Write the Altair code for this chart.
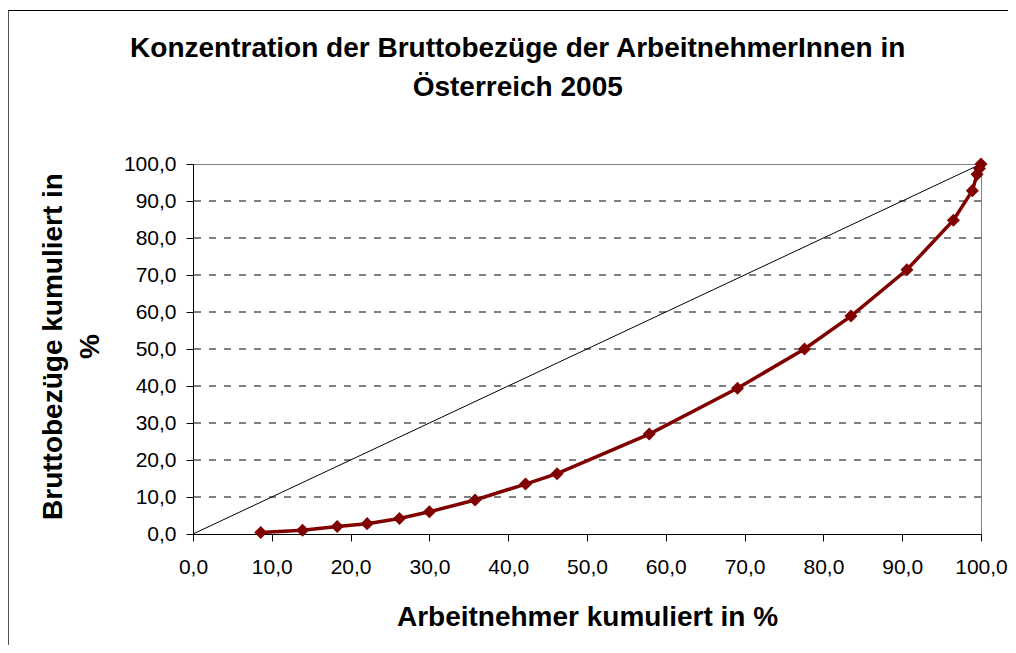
import altair as alt
import pandas as pd

# Lorenz curve data (cumulative %)
arbeitnehmer = [8.6, 13.9, 18.3, 22.1, 26.2, 30.0, 35.8, 42.2, 46.2, 57.9,
                69.1, 77.6, 83.5, 90.6, 96.5, 98.9, 99.5, 99.8, 100.0]
bezuege = [0.4, 1.0, 2.0, 2.8, 4.2, 6.0, 9.2, 13.5, 16.3, 27.0,
           39.4, 50.0, 58.9, 71.4, 84.8, 92.8, 97.2, 98.8, 100.0]

diag_x = [0.0, 100.0]
diag_y = [0.0, 100.0]
grid_vals = [10, 20, 30, 40, 50, 60, 70, 80, 90]
tick_vals = [0, 10, 20, 30, 40, 50, 60, 70, 80, 90, 100]
title_lines = ["Konzentration der Bruttobezüge der ArbeitnehmerInnen in",
               "Österreich 2005"]

FONT = "Liberation Sans"

lorenz = pd.DataFrame({"x": arbeitnehmer, "y": bezuege})
diag = pd.DataFrame({"x": diag_x, "y": diag_y})
grid = pd.DataFrame({"v": grid_vals})

lbl = "replace(format(datum.value, '.1f'), '.', ',')"

xscale = alt.Scale(domain=[0, 100], nice=False, zero=False)
yscale = alt.Scale(domain=[0, 100], nice=False, zero=False)

x_axis = alt.Axis(values=tick_vals, labelExpr=lbl, grid=False,
                  title="Arbeitnehmer kumuliert in %",
                  titleX=394, titleY=91, titleBaseline="alphabetic",
                  titleAlign="center",
                  labelBaseline="alphabetic", labelPadding=32)
y_axis = alt.Axis(values=tick_vals, labelExpr=lbl, grid=False,
                  title=["Bruttobezüge kumuliert in", "%"],
                  titleAngle=270, titleX=-140, titleY=182,
                  titleAlign="center", titleBaseline="middle",
                  titleLineHeight=37,
                  labelPadding=10)

gridlines = alt.Chart(grid).mark_rule(color="black", strokeWidth=1,
                                      strokeDash=[7, 8]).encode(
    y=alt.Y("v:Q", scale=yscale, axis=y_axis)
)

diagonal = alt.Chart(diag).mark_line(color="black", strokeWidth=1).encode(
    x=alt.X("x:Q", scale=xscale, axis=x_axis),
    y=alt.Y("y:Q", scale=yscale, axis=y_axis),
)

curve = alt.Chart(lorenz).mark_line(
    color="#800000", strokeWidth=3.5,
    point=alt.OverlayMarkDef(shape="diamond", size=170, filled=True,
                             color="#800000")
).encode(
    x=alt.X("x:Q", scale=xscale, axis=x_axis),
    y=alt.Y("y:Q", scale=yscale, axis=y_axis),
)

border = alt.Chart(pd.DataFrame({"b": [1]})).mark_rect(
    fill=None, stroke="black", strokeWidth=1
).encode(
    x=alt.value(-184.8), x2=alt.value(3000),
    y=alt.value(-153.5), y2=alt.value(3000),
)

title = alt.Chart(pd.DataFrame({"b": [1]})).mark_text(
    text=title_lines, font=FONT, fontSize=28, fontWeight="bold",
    color="black", align="center", baseline="top", lineHeight=39
).encode(
    x=alt.value(324.7), y=alt.value(-128.6)
)

chart = alt.layer(gridlines, diagonal, curve, border, title).properties(
    width=788, height=370,
    autosize=alt.AutoSizeParams(type="none"),
    padding={"left": 185, "top": 156, "right": 27, "bottom": 111},
).configure(
    background="white"
).configure_view(
    stroke="#808080", strokeWidth=1
).configure_axis(
    labelFont=FONT, labelFontSize=21, labelColor="black",
    titleFont=FONT, titleFontSize=28, titleFontWeight="bold",
    titleColor="black",
    domainColor="black", domainWidth=1,
    tickColor="black", tickSize=7, tickWidth=1,
    labelFlush=False, labelOverlap=False,
)

chart.save("out.html", embed_options={"renderer": "svg", "actions": False})
